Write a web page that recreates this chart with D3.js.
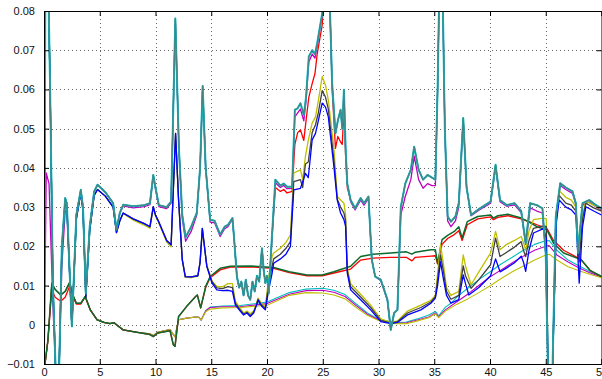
<!DOCTYPE html>
<html><head><meta charset="utf-8">
<script src="https://cdn.jsdelivr.net/npm/d3@7"></script>
<style>
html,body{margin:0;padding:0;background:#fff;}
svg{display:block;}
text{font-family:"Liberation Sans",Arial,Helvetica,sans-serif;font-size:11px;fill:#111;}
</style></head><body>
<svg id="chart" width="602" height="379"></svg>
<script>
// ---------- tick labels ----------
const xTicks = [0,5,10,15,20,25,30,35,40,45,50];
const yTicks = [-0.01,0,0.01,0.02,0.03,0.04,0.05,0.06,0.07,0.08];

// ---------- volatile upper group ----------
const tealA = [[0,-0.012],[0.12,0.085],[0.4,0.085],[0.55,0.06],[0.8,0.01],[1.05,-0.012],[1.35,-0.012],[1.6,0.02],[1.9,0.0323],[2.05,0.031],[2.5,-0.0004],[2.9,0.028],[3.3,0.0344],[3.5,0.03],[3.75,0.008],[4.1,0.025],[4.5,0.034],[4.8,0.0357],[5.5,0.0338],[6.2,0.031],[6.5,0.0242],[6.8,0.0285],[7.1,0.0306],[8.0,0.0302],[9.0,0.0305],[9.5,0.031],[9.8,0.0382],[10.0,0.035],[10.3,0.0305],[11.0,0.030],[11.4,0.0314],[11.78,0.0781],[12.1,0.045],[12.4,0.028],[12.7,0.0223],[13.2,0.025],[13.7,0.0285],[14.0,0.04],[14.23,0.0609],[14.5,0.04],[14.9,0.0268],[15.3,0.0265],[15.8,0.023],[16.2,0.025],[16.5,0.0255],[16.7,0.0263],[16.9,0.0272],[17.05,0.022],[17.3,0.0123],[17.5,0.0095],[17.7,0.011],[17.9,0.0075],[18.1,0.0115],[18.3,0.0075],[18.5,0.0064],[18.7,0.011],[18.9,0.0085],[19.1,0.0125],[19.3,0.011],[19.55,0.0195],[19.7,0.014],[19.85,0.0107],[20.0,0.0125],[20.15,0.008],[20.46,0.0234],[20.75,0.037],[21.2,0.0355],[21.5,0.036],[21.8,0.0352],[22.25,0.0352],[22.5,0.0548],[22.75,0.0552],[23.0,0.0565],[23.3,0.0535],[23.5,0.058],[23.75,0.0684],[24.05,0.070],[24.3,0.069],[24.5,0.0718],[24.95,0.0794],[25.1,0.085],[25.6,0.085],[25.84,0.0616],[26.14,0.0488],[26.35,0.052],[26.6,0.0548],[26.75,0.05],[26.9,0.0599],[27.05,0.045],[27.2,0.036],[27.5,0.0318],[27.9,0.0297],[28.4,0.0323],[28.7,0.031],[29.1,0.0327],[29.4,0.0166],[29.7,0.0123],[30.2,0.0115],[30.5,0.009],[30.8,0.0064],[31.1,-0.0013],[31.4,0.003],[31.7,0.0038],[32.0,0.030],[32.4,0.036],[32.9,0.0395],[33.2,0.0454],[33.6,0.0395],[34.0,0.037],[34.4,0.0382],[34.8,0.0375],[35.1,0.037],[35.3,0.06],[35.45,0.085],[35.75,0.085],[35.95,0.05],[36.2,0.0276],[36.5,0.0263],[36.9,0.0276],[37.2,0.031],[37.6,0.0527],[37.9,0.035],[38.3,0.028],[39.0,0.0295],[40.05,0.0314],[40.5,0.0408],[40.9,0.0318],[41.5,0.0305],[42.2,0.031],[42.8,0.029],[43.2,0.0208],[43.6,0.031],[44.2,0.0305],[44.7,0.0297],[45.0,0.018],[45.2,-0.012],[45.6,-0.012],[45.9,0.0276],[46.3,0.0361],[46.8,0.035],[47.4,0.034],[47.7,0.031],[47.9,0.0183],[48.1,0.025],[48.3,0.031],[48.9,0.0318],[49.5,0.0305],[50,0.0297]];

const redA = [[0,-0.012],[0.12,0.085],[0.4,0.085],[0.55,0.06],[0.8,0.01],[1.05,-0.012],[1.35,-0.012],[1.6,0.02],[1.9,0.0323],[2.05,0.031],[2.5,-0.0004],[2.9,0.028],[3.3,0.0344],[3.5,0.03],[3.75,0.008],[4.1,0.025],[4.5,0.034],[4.8,0.0357],[5.5,0.0338],[6.2,0.031],[6.5,0.0242],[6.8,0.0285],[7.1,0.0306],[8.0,0.0302],[9.0,0.0305],[9.5,0.031],[9.8,0.0382],[10.0,0.035],[10.3,0.0305],[11.0,0.030],[11.4,0.0314],[11.78,0.0781],[12.1,0.045],[12.4,0.028],[12.7,0.0223],[13.2,0.025],[13.7,0.0285],[14.0,0.04],[14.23,0.0609],[14.5,0.04],[14.9,0.0268],[15.3,0.0265],[15.8,0.023],[16.2,0.025],[16.5,0.0255],[16.7,0.0263],[16.9,0.0272],[17.05,0.022],[17.3,0.0123],[17.5,0.0095],[17.7,0.011],[17.9,0.0075],[18.1,0.0115],[18.3,0.0075],[18.5,0.0064],[18.7,0.011],[18.9,0.0085],[19.1,0.0125],[19.3,0.011],[19.55,0.0195],[19.7,0.014],[19.85,0.0107],[20.0,0.0125],[20.15,0.008],[20.46,0.0225],[20.75,0.035],[21.2,0.034],[21.5,0.0345],[21.8,0.0336],[22.25,0.034],[22.5,0.046],[22.75,0.049],[23.0,0.0497],[23.3,0.047],[23.5,0.052],[23.75,0.058],[24.05,0.0615],[24.3,0.064],[24.5,0.069],[24.95,0.0764],[25.1,0.085],[25.6,0.085],[25.84,0.06],[26.14,0.045],[26.35,0.048],[26.6,0.0466],[26.75,0.046],[26.9,0.055],[27.05,0.043],[27.2,0.035],[27.5,0.0318],[27.9,0.0297],[28.4,0.0323],[28.7,0.031],[29.1,0.0327],[29.4,0.0166],[29.7,0.0123],[30.2,0.0115],[30.5,0.009],[30.8,0.0064],[31.1,-0.0013],[31.4,0.003],[31.7,0.0038],[32.0,0.030],[32.4,0.036],[32.9,0.0395],[33.2,0.0454],[33.6,0.0395],[34.0,0.037],[34.4,0.0382],[34.8,0.0375],[35.1,0.037],[35.3,0.06],[35.45,0.085],[35.75,0.085],[35.95,0.05],[36.2,0.0276],[36.5,0.0263],[36.9,0.0276],[37.2,0.031],[37.6,0.0527],[37.9,0.035],[38.3,0.028],[39.0,0.0295],[40.05,0.0314],[40.5,0.0408],[40.9,0.0318],[41.5,0.0305],[42.2,0.031],[42.8,0.029],[43.2,0.0208],[43.6,0.031],[44.2,0.0305],[44.7,0.0297],[45.0,0.018],[45.2,-0.012],[45.6,-0.012],[45.9,0.0276],[46.3,0.0361],[46.8,0.035],[47.4,0.034],[47.7,0.031],[47.9,0.0183],[48.1,0.025],[48.3,0.031],[48.9,0.0318],[49.5,0.0305],[50,0.0297]];

const magentaA = [[0,-0.012],[0.2,0.0387],[0.45,0.036],[0.8,0.005],[1.05,-0.012],[1.35,-0.012],[1.6,0.015],[1.9,0.0289],[2.05,0.029],[2.5,-0.0004],[2.9,0.028],[3.3,0.0344],[3.5,0.03],[3.75,0.008],[4.1,0.025],[4.5,0.034],[4.8,0.0357],[5.5,0.0338],[6.2,0.031],[6.5,0.0242],[6.8,0.0285],[7.1,0.0303],[8.0,0.0298],[9.0,0.0301],[9.5,0.0306],[9.8,0.0378],[10.0,0.0346],[10.3,0.0301],[11.0,0.0296],[11.4,0.031],[11.78,0.0775],[12.1,0.045],[12.4,0.027],[12.7,0.0213],[13.2,0.0238],[13.7,0.028],[14.0,0.04],[14.23,0.0605],[14.5,0.04],[14.9,0.0262],[15.3,0.026],[15.8,0.0225],[16.2,0.0245],[16.5,0.025],[16.7,0.026],[16.9,0.0268],[17.05,0.022],[17.3,0.0123],[17.5,0.0095],[17.7,0.011],[17.9,0.0075],[18.1,0.0115],[18.3,0.0075],[18.5,0.0064],[18.7,0.011],[18.9,0.0085],[19.1,0.0125],[19.3,0.011],[19.55,0.0195],[19.7,0.014],[19.85,0.0107],[20.0,0.0125],[20.15,0.008],[20.46,0.023],[20.75,0.0362],[21.2,0.035],[21.5,0.0355],[21.8,0.0347],[22.25,0.0348],[22.5,0.053],[22.75,0.054],[23.0,0.055],[23.3,0.052],[23.5,0.057],[23.75,0.067],[24.05,0.069],[24.3,0.068],[24.5,0.071],[24.95,0.079],[25.1,0.085],[25.6,0.085],[25.84,0.0616],[26.14,0.0488],[26.35,0.052],[26.6,0.0548],[26.75,0.05],[26.9,0.0599],[27.05,0.045],[27.2,0.036],[27.5,0.0314],[27.9,0.0293],[28.4,0.0318],[28.7,0.0305],[29.1,0.0322],[29.4,0.0166],[29.7,0.0123],[30.2,0.0112],[30.5,0.0088],[30.8,0.0062],[31.1,-0.0013],[31.4,0.003],[31.7,0.0038],[32.0,0.028],[32.4,0.0327],[32.9,0.037],[33.2,0.043],[33.6,0.037],[34.0,0.0348],[34.4,0.036],[34.8,0.0355],[35.1,0.0355],[35.3,0.06],[35.45,0.085],[35.75,0.085],[35.95,0.05],[36.2,0.0265],[36.5,0.025],[36.9,0.0265],[37.2,0.030],[37.6,0.052],[37.9,0.035],[38.3,0.0278],[39.0,0.0292],[40.05,0.031],[40.5,0.0402],[40.9,0.0314],[41.5,0.0302],[42.2,0.0306],[42.8,0.0286],[43.2,0.0205],[43.6,0.0298],[44.2,0.029],[44.7,0.0285],[45.0,0.018],[45.2,-0.012],[45.6,-0.012],[45.9,0.027],[46.3,0.0355],[46.8,0.0345],[47.4,0.0335],[47.7,0.0306],[47.9,0.018],[48.1,0.0245],[48.3,0.0305],[48.9,0.0313],[49.5,0.0301],[50,0.0293]];

// ---------- volatile lower group ----------
const blueB = [[0,-0.012],[0.12,0.085],[0.4,0.085],[0.55,0.06],[0.8,0.01],[1.05,-0.012],[1.35,-0.012],[1.6,0.019],[1.9,0.0315],[2.05,0.030],[2.5,-0.0004],[2.9,0.027],[3.3,0.0336],[3.5,0.029],[3.75,0.007],[4.1,0.024],[4.5,0.033],[4.8,0.0345],[5.5,0.0328],[6.2,0.030],[6.5,0.0235],[6.8,0.0265],[7.1,0.0285],[8.0,0.027],[9.0,0.0258],[9.5,0.025],[9.8,0.0301],[10.0,0.028],[10.3,0.0262],[11.0,0.0215],[11.4,0.0204],[11.8,0.0488],[12.07,0.0318],[12.4,0.0166],[12.67,0.0123],[13.2,0.0122],[13.8,0.0125],[14.0,0.016],[14.2,0.0246],[14.6,0.0149],[15.07,0.0106],[15.5,0.0089],[16.0,0.0087],[16.5,0.0088],[16.9,0.0085],[17.16,0.0051],[17.6,0.0035],[17.9,0.0025],[18.2,0.003],[18.5,0.0021],[18.8,0.003],[19.0,0.0045],[19.2,0.0062],[19.5,0.0048],[19.85,0.0038],[20.15,0.0089],[20.46,0.0132],[20.6,0.0157],[21.2,0.0168],[21.7,0.018],[22.1,0.020],[22.4,0.0344],[23.0,0.0348],[23.2,0.0365],[23.45,0.0386],[23.7,0.0375],[24.05,0.0471],[24.35,0.0488],[24.6,0.052],[24.95,0.0565],[25.25,0.0555],[25.5,0.053],[26.0,0.0403],[26.3,0.0318],[26.6,0.0285],[26.9,0.0268],[27.05,0.025],[27.2,0.0132],[27.5,0.0089],[28.4,0.0064],[29.3,0.0038],[30.2,0.0008],[31.1,0.0003],[31.7,0.0006],[32.6,0.0025],[33.8,0.0038],[34.7,0.0055],[35.1,0.0068],[35.3,0.010],[35.56,0.0161],[35.8,0.012],[36.1,0.0075],[36.5,0.0055],[37.2,0.0064],[37.6,0.0127],[37.8,0.0105],[38.1,0.0076],[39.0,0.0095],[40.05,0.0125],[40.5,0.0168],[40.9,0.0135],[41.5,0.0145],[42.2,0.0158],[42.8,0.0175],[43.0,0.016],[43.2,0.0136],[43.5,0.019],[43.9,0.0234],[44.8,0.0245],[45.05,0.022],[45.2,-0.012],[45.6,-0.012],[45.95,0.026],[46.2,0.0318],[46.8,0.030],[47.3,0.0293],[47.7,0.028],[48.0,0.0106],[48.3,0.025],[48.6,0.0301],[49.3,0.029],[50,0.028]];

const yellowB = [[0,-0.012],[0.12,0.085],[0.4,0.085],[0.55,0.06],[0.8,0.01],[1.05,-0.012],[1.35,-0.012],[1.6,0.019],[1.9,0.0315],[2.05,0.030],[2.5,-0.0004],[2.9,0.027],[3.3,0.0336],[3.5,0.029],[3.75,0.007],[4.1,0.024],[4.5,0.033],[4.8,0.0345],[5.5,0.0328],[6.2,0.030],[6.5,0.0235],[6.8,0.0265],[7.1,0.0283],[8.0,0.0267],[9.0,0.0254],[9.5,0.0246],[9.8,0.0297],[10.0,0.0277],[10.3,0.0259],[11.0,0.0211],[11.4,0.0199],[11.8,0.048],[12.07,0.0315],[12.4,0.0166],[12.67,0.0121],[13.2,0.012],[13.8,0.0124],[14.0,0.016],[14.2,0.024],[14.6,0.0152],[15.07,0.0112],[15.5,0.0098],[16.0,0.0097],[16.5,0.0105],[16.9,0.0105],[17.16,0.006],[17.6,0.0042],[17.9,0.003],[18.2,0.0035],[18.5,0.0028],[18.8,0.0035],[19.0,0.005],[19.2,0.0068],[19.5,0.0055],[19.85,0.0045],[20.15,0.012],[20.46,0.0175],[20.6,0.0183],[21.2,0.0195],[21.7,0.021],[22.1,0.0229],[22.4,0.0387],[23.0,0.0395],[23.2,0.037],[23.45,0.043],[23.7,0.047],[24.05,0.0514],[24.35,0.053],[24.6,0.057],[24.95,0.0633],[25.25,0.061],[25.5,0.0573],[26.0,0.045],[26.3,0.0327],[26.6,0.0318],[26.9,0.031],[27.05,0.028],[27.2,0.0145],[27.5,0.0105],[28.4,0.0078],[29.3,0.005],[30.2,0.0015],[31.1,0.0006],[31.7,0.001],[32.6,0.0035],[33.8,0.005],[34.7,0.0062],[35.1,0.0075],[35.3,0.013],[35.56,0.0204],[35.8,0.016],[36.1,0.0095],[36.5,0.0075],[37.2,0.0085],[37.6,0.0178],[37.8,0.015],[38.3,0.0102],[39.0,0.0135],[40.05,0.0183],[40.5,0.0238],[40.9,0.0191],[41.5,0.0205],[42.2,0.0215],[42.8,0.0225],[43.0,0.021],[43.2,0.019],[43.5,0.024],[43.9,0.0268],[44.8,0.0272],[45.05,0.027],[45.2,-0.012],[45.6,-0.012],[45.95,0.028],[46.2,0.0342],[46.8,0.0325],[47.3,0.0318],[47.7,0.030],[48.0,0.018],[48.3,0.028],[48.6,0.0315],[49.3,0.0305],[50,0.0295]];

const grayB = [[0,-0.012],[0.12,0.085],[0.4,0.085],[0.55,0.06],[0.8,0.01],[1.05,-0.012],[1.35,-0.012],[1.6,0.019],[1.9,0.0315],[2.05,0.030],[2.5,-0.0004],[2.9,0.027],[3.3,0.0336],[3.5,0.029],[3.75,0.007],[4.1,0.024],[4.5,0.033],[4.8,0.0345],[5.5,0.0328],[6.2,0.030],[6.5,0.0235],[6.8,0.0265],[7.1,0.0285],[8.0,0.027],[9.0,0.0258],[9.5,0.025],[9.8,0.0301],[10.0,0.028],[10.3,0.0262],[11.0,0.0215],[11.4,0.0204],[11.8,0.0488],[12.07,0.0318],[12.4,0.0166],[12.67,0.0123],[13.2,0.0122],[13.8,0.0125],[14.0,0.016],[14.2,0.0246],[14.6,0.015],[15.07,0.011],[15.5,0.0094],[16.0,0.0092],[16.5,0.0097],[16.9,0.0095],[17.16,0.0055],[17.6,0.0038],[17.9,0.0027],[18.2,0.0032],[18.5,0.0024],[18.8,0.0032],[19.0,0.0047],[19.2,0.0065],[19.5,0.0051],[19.85,0.0041],[20.15,0.0105],[20.46,0.015],[20.6,0.0168],[21.2,0.018],[21.7,0.0195],[22.1,0.0212],[22.4,0.0365],[23.0,0.037],[23.2,0.035],[23.45,0.041],[23.7,0.0415],[24.05,0.049],[24.35,0.051],[24.6,0.054],[24.95,0.0597],[25.25,0.058],[25.5,0.055],[26.0,0.042],[26.3,0.032],[26.6,0.030],[26.9,0.0285],[27.05,0.0265],[27.2,0.0138],[27.5,0.0097],[28.4,0.0071],[29.3,0.0044],[30.2,0.0011],[31.1,0.0004],[31.7,0.0008],[32.6,0.003],[33.8,0.0044],[34.7,0.0058],[35.1,0.0072],[35.3,0.0115],[35.56,0.0178],[35.8,0.014],[36.1,0.0085],[36.5,0.0065],[37.2,0.0075],[37.6,0.015],[37.8,0.0125],[38.3,0.0093],[39.0,0.0115],[40.05,0.0153],[40.5,0.0221],[40.9,0.0174],[41.5,0.0185],[42.2,0.0198],[42.8,0.0212],[43.0,0.019],[43.2,0.0174],[43.5,0.0215],[43.9,0.0246],[44.8,0.0252],[45.05,0.025],[45.2,-0.012],[45.6,-0.012],[45.95,0.027],[46.2,0.033],[46.8,0.031],[47.3,0.0305],[47.7,0.029],[48.0,0.016],[48.3,0.027],[48.6,0.031],[49.3,0.0298],[50,0.029]];

// ---------- smooth group ----------
const greenC = [[0,-0.012],[0.35,-0.004],[0.7,0.0106],[1.0,0.009],[1.5,0.0076],[1.9,0.0085],[2.3,0.0108],[2.6,0.0075],[2.9,0.0055],[3.3,0.0055],[3.7,0.0072],[4.15,0.0038],[4.75,0.0013],[5.4,0.0006],[5.9,0.0003],[6.3,0.0005],[6.5,0.0],[7.1,-0.0013],[8.3,-0.0019],[9.5,-0.0025],[9.8,-0.003],[10.2,-0.0021],[11.3,-0.0015],[11.6,-0.0051],[11.75,-0.0055],[12.07,0.0021],[12.8,0.0047],[13.6,0.0072],[13.75,0.0076],[14.05,0.0043],[14.5,0.0098],[14.9,0.0123],[15.8,0.0144],[16.7,0.0149],[18.5,0.015],[20.6,0.0146],[22.0,0.0135],[23.6,0.0127],[24.95,0.0127],[26.0,0.0135],[27.5,0.0149],[28.4,0.0174],[29.5,0.018],[31.1,0.0183],[32.5,0.0186],[33.0,0.018],[33.3,0.0185],[34.7,0.0191],[35.1,0.0191],[35.3,0.0157],[35.7,0.0217],[36.2,0.0228],[36.8,0.0238],[37.2,0.025],[37.5,0.0221],[37.96,0.0263],[38.9,0.0276],[40.05,0.028],[40.3,0.0272],[40.7,0.0278],[41.6,0.0282],[42.8,0.0272],[43.5,0.0262],[44.2,0.025],[45.1,0.0242],[45.7,0.0208],[46.6,0.0183],[47.8,0.017],[48.2,0.0165],[49,0.0138],[50,0.0123]];

const redC = [[0,-0.012],[0.35,-0.004],[0.7,0.009],[1.0,0.007],[1.5,0.006],[1.9,0.007],[2.3,0.0098],[2.6,0.0072],[2.9,0.0053],[3.3,0.0053],[3.7,0.0071],[4.15,0.0038],[4.75,0.0013],[5.4,0.0006],[5.9,0.0003],[6.3,0.0005],[6.5,0.0],[7.1,-0.0013],[8.3,-0.0019],[9.5,-0.0025],[9.8,-0.003],[10.2,-0.0021],[11.3,-0.0015],[11.6,-0.0051],[11.75,-0.0055],[12.07,0.0021],[12.8,0.0047],[13.6,0.0072],[13.75,0.0076],[14.05,0.0043],[14.5,0.0095],[14.9,0.012],[15.8,0.014],[16.7,0.0147],[18.5,0.0148],[20.6,0.0144],[22.0,0.0133],[23.6,0.0125],[24.95,0.0125],[26.0,0.0132],[27.5,0.0142],[28.4,0.0165],[29.5,0.017],[31.1,0.0172],[32.5,0.0172],[33.0,0.0163],[33.3,0.0172],[34.7,0.0175],[35.1,0.0176],[35.3,0.0155],[35.7,0.0205],[36.2,0.022],[36.8,0.023],[37.2,0.024],[37.5,0.0215],[37.96,0.0255],[38.9,0.027],[40.05,0.0275],[40.3,0.0268],[40.7,0.0274],[41.6,0.0278],[42.8,0.027],[43.5,0.0263],[44.2,0.0255],[45.1,0.0246],[45.7,0.0215],[46.6,0.019],[47.8,0.0172],[48.2,0.0165],[49,0.0138],[50,0.0123]];

const yellowC = [[0,-0.012],[0.35,-0.004],[0.7,0.0106],[1.0,0.009],[1.5,0.0076],[1.9,0.0085],[2.3,0.0108],[2.6,0.0075],[2.9,0.0055],[3.3,0.0055],[3.7,0.0072],[4.15,0.0038],[4.75,0.0013],[5.4,0.0006],[5.9,0.0003],[6.3,0.0005],[6.5,0.0],[7.1,-0.0013],[8.3,-0.0019],[9.5,-0.0023],[9.8,-0.0028],[10.2,-0.0019],[11.3,-0.0012],[11.6,-0.0025],[11.75,-0.003],[12.07,0.0013],[12.8,0.0017],[13.6,0.002],[13.9,0.0019],[14.1,0.0012],[14.5,0.0033],[14.9,0.004],[16,0.0043],[17.6,0.0044],[20,0.005],[22,0.0075],[23.5,0.0082],[25,0.0081],[26,0.0076],[27,0.0066],[28,0.0044],[29,0.0024],[30,0.0011],[31.5,0.0003],[32.5,0.0003],[33.5,0.001],[34.5,0.0018],[35.1,0.0028],[35.4,0.0018],[36.0,0.0035],[37,0.0052],[38,0.0066],[39,0.0082],[40.05,0.010],[41,0.0118],[42,0.0135],[43,0.015],[44,0.0165],[45.0,0.0178],[45.3,0.018],[46,0.0165],[47,0.0148],[48,0.0138],[49,0.0128],[50,0.012]];

const cyanC = [[0,-0.012],[0.35,-0.004],[0.7,0.0106],[1.0,0.009],[1.5,0.0076],[1.9,0.0085],[2.3,0.0108],[2.6,0.0075],[2.9,0.0055],[3.3,0.0055],[3.7,0.0072],[4.15,0.0038],[4.75,0.0013],[5.4,0.0006],[5.9,0.0003],[6.3,0.0005],[6.5,0.0],[7.1,-0.0013],[8.3,-0.0019],[9.5,-0.0023],[9.8,-0.0028],[10.2,-0.0019],[11.3,-0.0012],[11.6,-0.0025],[11.75,-0.003],[12.07,0.0013],[12.8,0.0017],[13.6,0.002],[13.9,0.0019],[14.1,0.0012],[14.5,0.0036],[14.9,0.0045],[16,0.0048],[17.6,0.0049],[20,0.0058],[22,0.0082],[23.5,0.0091],[25,0.0093],[26,0.0088],[27,0.0077],[28,0.0053],[29,0.003],[30,0.0014],[31.5,0.0005],[32.5,0.0007],[33.5,0.0015],[34.5,0.0025],[35.1,0.0034],[35.4,0.0023],[36.0,0.0045],[36.5,0.0055],[37.2,0.0075],[38,0.0093],[39,0.0115],[40.05,0.0136],[41,0.0155],[42,0.0172],[42.8,0.0187],[44,0.0205],[45.0,0.0214],[45.3,0.0215],[46,0.019],[47,0.0165],[48,0.015],[49,0.0135],[50,0.0123]];

const magentaC = [[0,-0.012],[0.35,-0.004],[0.7,0.0106],[1.0,0.009],[1.5,0.0076],[1.9,0.0085],[2.3,0.0108],[2.6,0.0075],[2.9,0.0055],[3.3,0.0055],[3.7,0.0072],[4.15,0.0038],[4.75,0.0013],[5.4,0.0006],[5.9,0.0003],[6.3,0.0005],[6.5,0.0],[7.1,-0.0013],[8.3,-0.0019],[9.5,-0.0023],[9.8,-0.0028],[10.2,-0.0019],[11.3,-0.0012],[11.6,-0.0025],[11.75,-0.003],[12.07,0.0013],[12.8,0.0017],[13.6,0.002],[13.9,0.0019],[14.1,0.0012],[14.5,0.0035],[14.9,0.0044],[16,0.0046],[17.6,0.0046],[20,0.0054],[22,0.0078],[23.5,0.0087],[25,0.0088],[26,0.0083],[27,0.0072],[28,0.0049],[29,0.0027],[30,0.0013],[31.5,0.0004],[32.5,0.0005],[33.5,0.0012],[34.5,0.002],[35.1,0.003],[35.4,0.002],[36.0,0.0038],[37,0.0058],[38,0.0078],[39,0.010],[40.05,0.0123],[41,0.014],[42,0.0158],[43,0.0175],[44,0.019],[45.0,0.020],[45.3,0.0202],[46,0.0178],[47,0.016],[48,0.0145],[49,0.0132],[50,0.0122]];

// ---------- drawing ----------
const W = 602, H = 379;
const mg = {left:44, top:11, right:0.5, bottom:15};
const xs = d3.scaleLinear().domain([0,50]).range([mg.left, W - mg.right]);
const ys = d3.scaleLinear().domain([-0.01,0.08]).range([H - mg.bottom, mg.top]);
const svg = d3.select("#chart");

svg.append("defs").append("clipPath").attr("id","clip")
  .append("rect").attr("x",xs(0)).attr("y",ys(0.08))
  .attr("width",xs(50)-xs(0)).attr("height",ys(-0.01)-ys(0.08));

// grid
const grid = svg.append("g");
grid.selectAll(".gx").data(xTicks.slice(1,-1)).join("line")
  .attr("x1",d=>Math.round(xs(d))+0.5).attr("x2",d=>Math.round(xs(d))+0.5)
  .attr("y1",ys(0.08)).attr("y2",ys(-0.01))
  .attr("stroke","#666").attr("stroke-width",1).attr("stroke-dasharray","1,3");
grid.selectAll(".gy").data(yTicks.slice(1,-1)).join("line")
  .attr("y1",d=>Math.round(ys(d))+0.5).attr("y2",d=>Math.round(ys(d))+0.5)
  .attr("x1",xs(0)).attr("x2",xs(50))
  .attr("stroke","#666").attr("stroke-width",1).attr("stroke-dasharray","1,3");

const lineGen = d3.line().x(d=>xs(d[0])).y(d=>ys(d[1]));
const layers = [
  {d:cyanC, c:"#00bfbf", w:1.1},
  {d:magentaC, c:"#bf00bf", w:1.1},
  {d:yellowC, c:"#bfbf00", w:1.1},
  {d:redC, c:"#ff0000", w:1.3},
  {d:greenC, c:"#0b6a2c", w:1.5},
  {d:redA, c:"#ff0000", w:1.3},
  {d:magentaA, c:"#bf00bf", w:1.3},
  {d:yellowB, c:"#bfbf00", w:1.3},
  {d:grayB, c:"#404040", w:1.3},
  {d:blueB, c:"#0000ff", w:1.3},
  {d:tealA, c:"#00c0c0", w:2.0},
  {d:tealA, c:"#4a8282", w:1.1}
];
const plot = svg.append("g").attr("clip-path","url(#clip)");
plot.selectAll("path").data(layers).join("path")
  .attr("d",l=>lineGen(l.d)).attr("fill","none")
  .attr("stroke",l=>l.c).attr("stroke-width",l=>l.w)
  .attr("stroke-linejoin","round");

// axes (MATLAB style: inward ticks on all four sides)
const fmt = d => d===0 ? "0" : (d<0 ? "\u2212"+Math.abs(d).toFixed(2) : d.toFixed(2));
const axG = svg.append("g");
const axB = d3.axisBottom(xs).tickValues(xTicks).tickSize(-5).tickPadding(4).tickFormat(d3.format("d"));
const axL = d3.axisLeft(ys).tickValues(yTicks).tickSize(-5).tickPadding(9).tickFormat(fmt);
const axT = d3.axisTop(xs).tickValues(xTicks).tickSize(-5).tickFormat("");
const axR = d3.axisRight(ys).tickValues(yTicks).tickSize(-5).tickFormat("");
axG.append("g").attr("transform",`translate(0,${ys(-0.01)})`).call(axB);
axG.append("g").attr("transform",`translate(${xs(0)},0)`).call(axL);
axG.append("g").attr("transform",`translate(0,${ys(0.08)})`).call(axT);
axG.append("g").attr("transform",`translate(${xs(50)},0)`).call(axR);
axG.selectAll(".domain").attr("stroke","#000").attr("stroke-width",1);
axG.selectAll(".tick line").attr("stroke","#000");
axG.selectAll("text").attr("font-size","11px").attr("fill","#111")
  .style("font-family",'"Liberation Sans",Arial,Helvetica,sans-serif');
</script>
</body></html>
